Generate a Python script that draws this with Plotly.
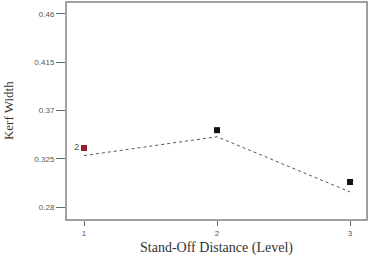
import plotly.graph_objects as go

levels = [1, 2, 3]
predicted = [0.3280, 0.3456, 0.2941]
actual = [0.3351, 0.3517, 0.3034]
actual_colors = ["#9b1c2a", "#111111", "#111111"]
actual_labels = ["2", "", ""]
y_ticks = [0.28, 0.325, 0.37, 0.415, 0.46]
y_tick_text = ["0.28", "0.325", "0.37", "0.415", "0.46"]
x_ticks = [1, 2, 3]

fig = go.Figure()
fig.add_trace(go.Scatter(
    x=levels, y=predicted, mode="lines",
    line=dict(color="#555555", width=1, dash="dot"),
    hoverinfo="skip", showlegend=False))
fig.add_trace(go.Scatter(
    x=levels, y=actual, mode="markers+text",
    marker=dict(symbol="square", size=6, color=actual_colors, line=dict(width=0)),
    text=actual_labels, textposition="middle left",
    textfont=dict(family="Liberation Sans", size=9, color="#555555"),
    showlegend=False))

axis_common = dict(
    showgrid=False, zeroline=False, showline=True, linecolor="#a0a0a0",
    linewidth=2, mirror=True, ticks="outside", tickcolor="#666666",
    tickfont=dict(family="Liberation Sans", size=8, color="#555555"))

fig.update_xaxes(range=[0.872, 3.12], tickvals=x_ticks, ticklen=5, **axis_common,
                 title=dict(text="Stand-Off Distance (Level)",
                            font=dict(family="Liberation Serif", size=14, color="#333333"),
                            standoff=6))
fig.update_yaxes(range=[0.2689, 0.4702], tickvals=y_ticks, ticktext=y_tick_text,
                 ticklen=9, **axis_common)

fig.add_annotation(text="Kerf Width", textangle=-90, xref="paper", yref="paper",
                   x=-0.197, y=0.5, xanchor="center", yanchor="middle", showarrow=False,
                   font=dict(family="Liberation Serif", size=13, color="#333333"))

fig.update_layout(width=373, height=262, margin=dict(l=67, r=7, t=1, b=43),
                  paper_bgcolor="white", plot_bgcolor="white")
fig.write_html("out.html")
